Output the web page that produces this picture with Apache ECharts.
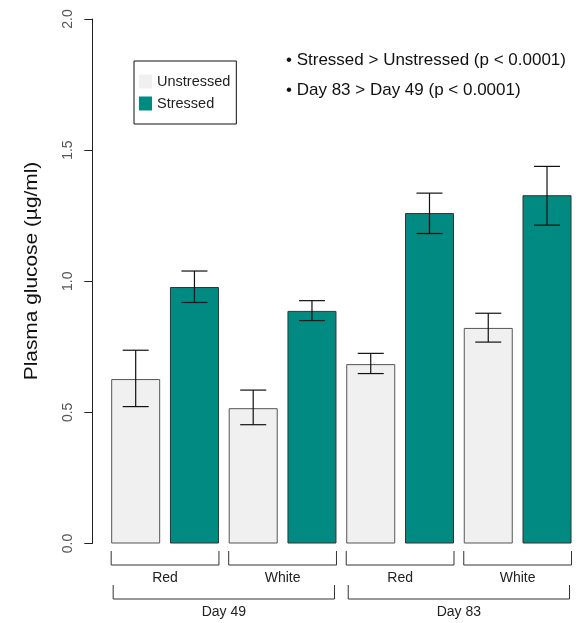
<!DOCTYPE html>
<html>
<head>
<meta charset="utf-8">
<script src="https://cdn.jsdelivr.net/npm/echarts@6/dist/echarts.min.js"></script>
<style>
  html, body { margin: 0; padding: 0; background: #ffffff; }
  #chart { width: 587px; height: 623px; }
</style>
</head>
<body>
<div id="chart"></div>
<script>
// Plasma glucose by day, light colour and stress treatment
const days = ['Day 49', 'Day 83'];
const lightColours = ['Red', 'White'];
const treatments = ['Unstressed', 'Stressed'];

// means, in the order Day49-Red, Day49-White, Day83-Red, Day83-White
const unstressedMean = [0.627, 0.516, 0.684, 0.822];
const unstressedLow  = [0.522, 0.453, 0.648, 0.768];
const unstressedHigh = [0.737, 0.585, 0.725, 0.878];

const stressedMean = [0.978, 0.887, 1.260, 1.328];
const stressedLow  = [0.919, 0.850, 1.182, 1.214];
const stressedHigh = [1.039, 0.926, 1.336, 1.438];

const yTicks = [0, 0.5, 1.0, 1.5, 2.0];
const yTitle = 'Plasma glucose (\u00b5g/ml)';
const notes = ['\u2022 Stressed > Unstressed (p < 0.0001)', '\u2022 Day 83 > Day 49 (p < 0.0001)'];

const FONT = '"Liberation Sans", Arial, sans-serif';
const TEAL = '#008a81';
const LIGHT = '#f0f0f0';
const BAR_FRACTION = 0.834;

// one slot per bar: each group holds an unstressed and a stressed bar
const slots = [];
const uData = [], sData = [], errData = [];
const groupCount = days.length * lightColours.length;
for (let g = 0; g < groupCount; g++) {
  const name = days[Math.floor(g / lightColours.length)] + ' ' + lightColours[g % lightColours.length];
  const iu = slots.length;
  slots.push(name + ' ' + treatments[0]);
  const is = slots.length;
  slots.push(name + ' ' + treatments[1]);
  uData.push(unstressedMean[g], null);
  sData.push(null, stressedMean[g]);
  errData.push([iu, unstressedLow[g], unstressedHigh[g]]);
  errData.push([is, stressedLow[g], stressedHigh[g]]);
}

// bracket rows under the bars: [first slot, last slot, level, label]
const brackets = [];
for (let g = 0; g < groupCount; g++) {
  brackets.push([g * 2, g * 2 + 1, 0, lightColours[g % lightColours.length]]);
}
const perDay = lightColours.length * 2;
for (let d = 0; d < days.length; d++) {
  brackets.push([d * perDay, d * perDay + perDay - 1, 1, days[d]]);
}

const chart = echarts.init(document.getElementById('chart'), null, { renderer: 'canvas' });

chart.setOption({
  animation: false,
  backgroundColor: '#ffffff',
  textStyle: { fontFamily: FONT },
  grid: { left: 106.3, right: 10.6, top: 19, bottom: 79.5, containLabel: false },
  legend: {
    orient: 'vertical',
    left: 134,
    top: 61,
    data: treatments,
    icon: 'rect',
    itemWidth: 13,
    itemHeight: 14,
    itemGap: 7,
    padding: [13, 6, 13, 5],
    borderColor: '#111',
    borderWidth: 1,
    itemStyle: { borderWidth: 0 },
    textStyle: { fontFamily: FONT, fontSize: 14.5, color: '#222' }
  },
  xAxis: {
    type: 'category',
    data: slots,
    axisLine: { show: false },
    axisTick: { show: false },
    axisLabel: { show: false },
    splitLine: { show: false }
  },
  yAxis: {
    type: 'value',
    min: yTicks[0],
    max: yTicks[yTicks.length - 1],
    interval: yTicks[1] - yTicks[0],
    offset: 14,
    axisLine: { show: true, lineStyle: { color: '#222', width: 1 } },
    axisTick: { show: true, inside: false, length: 8, lineStyle: { color: '#222', width: 1 } },
    axisLabel: {
      rotate: 90,
      margin: 17,
      fontFamily: FONT,
      fontSize: 14,
      color: '#555',
      formatter: v => v.toFixed(1)
    },
    splitLine: { show: false }
  },
  graphic: [
    {
      // y-axis title, set vertically
      type: 'text',
      x: 32.5,
      y: 271,
      rotation: Math.PI / 2,
      scaleX: 1.16,
      style: {
        text: yTitle,
        font: '18px ' + FONT,
        fill: '#111',
        align: 'center',
        verticalAlign: 'middle'
      }
    }
  ].concat(notes.map((t, i) => ({
    type: 'text',
    left: 286,
    top: 52 + i * 30,
    style: { text: t, font: '17px ' + FONT, fill: '#111' }
  }))),
  series: [
    {
      name: treatments[0],
      type: 'bar',
      data: uData,
      barWidth: (BAR_FRACTION * 100) + '%',
      barGap: '-100%',
      itemStyle: { color: LIGHT, borderColor: '#555', borderWidth: 1 }
    },
    {
      name: treatments[1],
      type: 'bar',
      data: sData,
      barWidth: (BAR_FRACTION * 100) + '%',
      barGap: '-100%',
      itemStyle: { color: TEAL, borderColor: '#333', borderWidth: 1 }
    },
    {
      // standard-error whiskers
      type: 'custom',
      data: errData,
      encode: { x: 0, y: [1, 2] },
      z: 5,
      renderItem: function (params, api) {
        const slot = api.value(0);
        const lo = api.coord([slot, api.value(1)]);
        const hi = api.coord([slot, api.value(2)]);
        const half = 13;
        const style = { stroke: '#111', lineWidth: 1.2 };
        return {
          type: 'group',
          children: [
            { type: 'line', shape: { x1: lo[0], y1: lo[1], x2: hi[0], y2: hi[1] }, style },
            { type: 'line', shape: { x1: lo[0] - half, y1: lo[1], x2: lo[0] + half, y2: lo[1] }, style },
            { type: 'line', shape: { x1: hi[0] - half, y1: hi[1], x2: hi[0] + half, y2: hi[1] }, style }
          ]
        };
      }
    },
    {
      // grouping brackets below the bars
      type: 'custom',
      data: brackets.map(b => [b[0], b[1], b[2]]),
      encode: { x: [0, 1] },
      clip: false,
      silent: true,
      renderItem: function (params, api) {
        const b = brackets[params.dataIndex];
        const slotW = api.size([1, 0])[0];
        const halfBar = slotW * BAR_FRACTION / 2;
        const p0 = api.coord([b[0], 0]);
        const p1 = api.coord([b[1], 0]);
        const inset = b[2] === 0 ? 0 : 2;
        const x0 = p0[0] - halfBar + inset;
        const x1 = p1[0] + halfBar - inset;
        const top = p0[1] + 7.5 + b[2] * 34;
        const bottom = top + 14;
        const style = { stroke: '#333', lineWidth: 1, fill: null };
        return {
          type: 'group',
          children: [
            { type: 'polyline', shape: { points: [[x0, top], [x0, bottom], [x1, bottom], [x1, top]] }, style },
            {
              type: 'text',
              style: {
                text: b[3],
                x: (x0 + x1) / 2,
                y: bottom + 13,
                align: 'center',
                verticalAlign: 'middle',
                textAlign: 'center',
                textVerticalAlign: 'middle',
                font: '14px ' + FONT,
                fill: '#222'
              }
            }
          ]
        };
      }
    }
  ]
});
</script>
</body>
</html>
